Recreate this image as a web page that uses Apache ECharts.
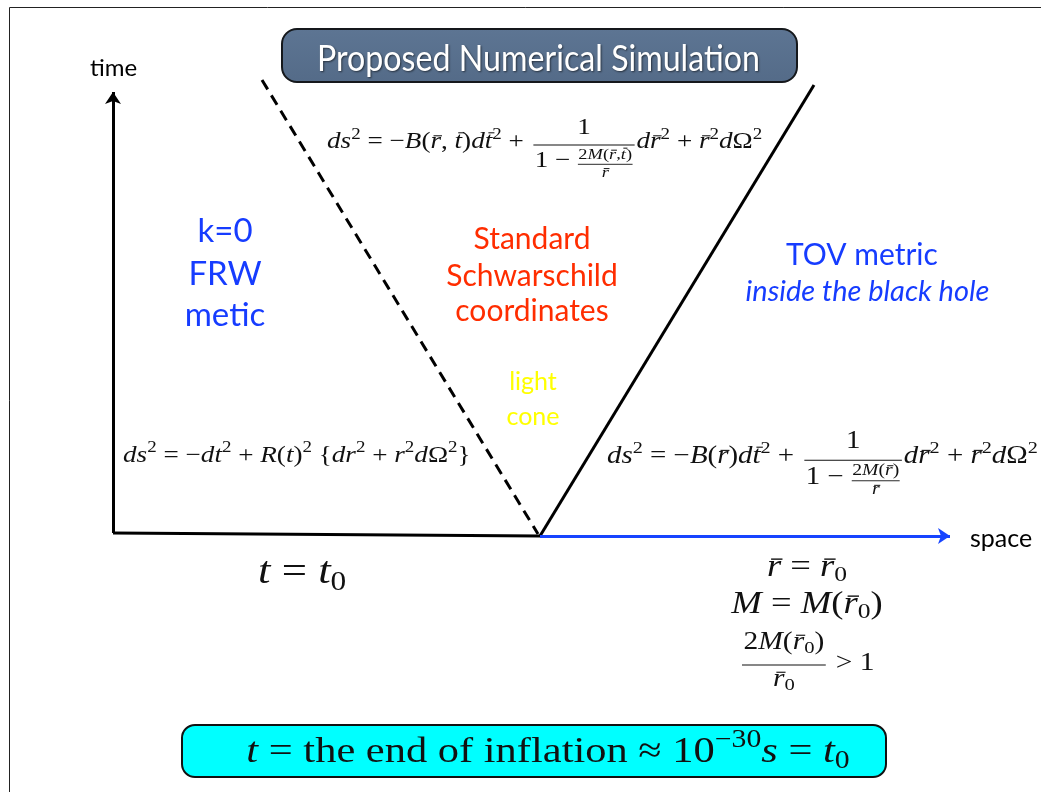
<!DOCTYPE html>
<html><head><meta charset="utf-8">
<script src="https://cdn.jsdelivr.net/npm/echarts@6/dist/echarts.min.js"></script>
<style>html,body{margin:0;padding:0;background:#fff}#c{width:1041px;height:792px}</style>
</head><body><div id="c"></div>
<script>
// ---- Space-time diagram data (space units, time units); light-cone apex at origin ----
const timeAxis = [[-4.27, 0.03], [-4.27, 4.44]];
const initialSlice = [[-4.27, 0.03], [0, 0]];
const spaceAxis = [[0, 0], [4.10, 0]];
const ingoingLightRay = [[-2.78, 4.56], [-0.02, 0.02]];
const outgoingLightRay = [[0, 0], [2.74, 4.51]];

// ---- Text content ----
const axisNames = ['time', 'space'];
const titleText = ['Proposed Numerical Simulation'];
const frwLabel = ['k=0', 'FRW', 'metic'];
const schwLabel = ['Standard', 'Schwarschild', 'coordinates'];
const coneLabel = ['light', 'cone'];
const tovLabel = ['TOV metric', 'inside the black hole'];

// equations as token lists: i italic, I italic barred, n upright, p superscript, q subscript
const eqSchwLeft = ['i:ds','p:2','n: = −','i:B','n:(','I:r','n:, ','I:t','n:)','i:d','I:t','p:2','n: + '];
const eqSchwSmallNum = ['n:2','i:M','n:(','I:r','n:,','I:t','n:)'];
const eqTovLeft = ['i:ds','p:2','n: = −','i:B','n:(','I:r','n:)','i:d','I:t','p:2','n: + '];
const eqTovSmallNum = ['n:2','i:M','n:(','I:r','n:)'];
const eqSmallDen = ['I:r'];
const eqNum = ['n:1'];
const eqDenLead = ['n:1 − '];
const eqTail = ['i:d','I:r','p:2','n: + ','I:r','p:2','i:d','n:Ω','p:2'];
const eqFrw = ['i:ds','p:2','n: = −','i:dt','p:2','n: + ','i:R','n:(','i:t','n:)','p:2','n: {','i:dr','p:2','n: + ','i:r','p:2','i:d','n:Ω','p:2','n:}'];
const eqT0 = ['i:t','n: = ','i:t','q:0'];
const eqR0 = ['I:r','n: = ','I:r','q:0'];
const eqM0 = ['i:M','n: = ','i:M','n:(','I:r','q:0','n:)'];
const eqRatioNum = ['n:2','i:M','n:(','I:r','q:0','n:)'];
const eqRatioDen = ['I:r','q:0'];
const eqRatioRel = ['n: > 1'];
const eqEnd = ['i:t','n: = the end of inflation ≈ 10','p:−30','i:s','n: = ','i:t','q:0'];

// ---- typesetting helpers ----
const SERIF = '"Liberation Serif","DejaVu Serif",serif';
const SANS = 'Lato,"Open Sans","Noto Sans",sans-serif';
const HS = 1.18; // horizontal stretch to mimic Computer Modern widths
const mctx = document.createElement('canvas').getContext('2d');
const gfx = [];
function tokInfo(tok){
  const c = tok[0], s = tok.slice(2);
  const m = {i:{it:1,k:1,dy:0},I:{it:1,k:1,dy:0,bar:1},n:{it:0,k:1,dy:0},p:{it:0,k:0.7,dy:-0.33},q:{it:0,k:0.7,dy:0.26}}[c];
  return Object.assign({s}, m);
}
function fontOf(it, size){ return (it ? 'italic ' : '') + size.toFixed(2) + 'px ' + SERIF; }
function measure(tokens, fs){
  let w = 0;
  for (const t of tokens){ const o = tokInfo(t); mctx.font = fontOf(o.it, fs*o.k); w += mctx.measureText(o.s).width*HS; }
  return w;
}
function place(tokens, x, yc, fs, color){
  color = color || '#111';
  for (const t of tokens){
    const o = tokInfo(t); const size = fs*o.k;
    mctx.font = fontOf(o.it, size);
    const w = mctx.measureText(o.s).width*HS;
    gfx.push({type:'text', x:x, y:yc + o.dy*fs, z:20, scaleX:HS,
      style:{text:o.s, font:fontOf(o.it, size), fill:color, align:'left', verticalAlign:'middle'}});
    if (o.bar){
      const tall = /[A-Zbdfhklt]/.test(o.s);
      const by = yc + o.dy*fs - (tall ? 0.40 : 0.27)*size;
      const sk = (tall ? 0.12 : 0.08)*size;
      gfx.push({type:'line', z:20, shape:{x1:x + 0.12*w + sk, y1:by, x2:x + 0.92*w + sk, y2:by},
        style:{stroke:color, lineWidth:Math.max(1, size*0.045)}});
    }
    x += w;
  }
  return x;
}
function hbar(x1, x2, y, lw){
  gfx.push({type:'line', z:20, shape:{x1:x1, y1:y, x2:x2, y2:y}, style:{stroke:'#111', lineWidth:lw}});
}
// metric with a nested fraction: left + 1/(1 - num/den) + tail
function metric(left, smallNum, x, yc, fs){
  let cx = place(left, x, yc, fs);
  const sf = fs*0.68;
  const wLead = measure(eqDenLead, fs);
  const wsn = measure(smallNum, sf), wsd = measure(eqSmallDen, sf);
  const wsf = Math.max(wsn, wsd) + 0.1*fs;
  const wDen = wLead + wsf;
  const wNum = measure(eqNum, fs);
  const bw = Math.max(wDen, wNum) + 0.12*fs;
  const bx = cx + 0.12*fs;
  hbar(bx, bx + bw, yc + 0.13*fs, 1.1);
  place(eqNum, bx + (bw - wNum)/2, yc - 0.62*fs, fs);
  const dy = yc + 0.84*fs;
  const dx = bx + (bw - wDen)/2;
  place(eqDenLead, dx, dy, fs);
  const sx = dx + wLead;
  hbar(sx + 0.03*fs, sx + wsf - 0.03*fs, dy + 0.13*fs, 0.9);
  place(smallNum, sx + (wsf - wsn)/2, dy - 0.30*fs, sf);
  place(eqSmallDen, sx + (wsf - wsd)/2, dy + 0.50*fs, sf);
  place(eqTail, bx + bw + 0.08*fs, yc, fs);
}
function centered(tokens, cx, yc, fs){ place(tokens, cx - measure(tokens, fs)/2, yc, fs); }
function label(text, x, y, size, color, opts){
  opts = opts || {};
  gfx.push({type:'text', x:x, y:y, z:20,
    style:{text:text, font:(opts.italic?'italic ':'') + size + 'px ' + SANS, fill:color,
      align:opts.align || 'center', verticalAlign:'middle'}});
}

// ---- frame and boxes ----
gfx.push({type:'rect', z:1, shape:{x:9.5, y:7.5, width:1100, height:900},
  style:{fill:'none', stroke:'#222', lineWidth:1}});
gfx.push({type:'rect', z:10, shape:{x:282, y:29, width:515, height:53, r:15},
  style:{fill:new echarts.graphic.LinearGradient(0,0,0,1,[{offset:0,color:'#5d7593'},{offset:1,color:'#546b88'}]),
    stroke:'#15181c', lineWidth:2}});
(function(){
  const fs = 36; mctx.font = fs + 'px ' + SANS;
  const w = mctx.measureText(titleText[0]).width;
  gfx.push({type:'text', x:538.5, y:59, z:20, scaleX:443/w, scaleY:1,
    style:{text:titleText[0], font:fs + 'px ' + SANS, fill:'#ffffff', align:'center', verticalAlign:'middle',
      textShadowColor:'rgba(0,0,0,0.55)', textShadowBlur:2, textShadowOffsetX:1, textShadowOffsetY:1}});
})();
gfx.push({type:'rect', z:10, shape:{x:182, y:725, width:704, height:52, r:13},
  style:{fill:'#00ffff', stroke:'#111', lineWidth:2}});

// ---- labels ----
label(axisNames[0], 113.5, 68, 24, '#000');
label(axisNames[1], 970, 539, 25, '#000', {align:'left'});
[231.5, 274, 315].forEach((y, i) => label(frwLabel[i], 225, y, 33, '#163cff'));
[239, 276, 311].forEach((y, i) => label(schwLabel[i], 532, y, 30, '#ff2d00'));
[382, 417].forEach((y, i) => label(coneLabel[i], 533, y, 25, '#ffff00'));
label(tovLabel[0], 862, 255, 30, '#163cff');
label(tovLabel[1], 867.5, 292, 29, '#163cff', {italic:true});

// ---- equations ----
metric(eqSchwLeft, eqSchwSmallNum, 327, 142, 23);
metric(eqTovLeft, eqTovSmallNum, 607, 457, 24.5);
place(eqFrw, 123, 455.5, 23);
place(eqT0, 258, 573, 38);
centered(eqR0, 807, 567.5, 31);
centered(eqM0, 807, 604.5, 31);
(function(){
  const fs = 25;
  const wn = measure(eqRatioNum, fs), wd = measure(eqRatioDen, fs);
  const bw = Math.max(wn, wd) + 0.12*fs, bx = 742;
  hbar(bx, bx + bw, 665, 1.1);
  place(eqRatioNum, bx + (bw - wn)/2, 642, fs);
  place(eqRatioDen, bx + (bw - wd)/2, 679, fs);
  place(eqRatioRel, bx + bw + 0.1*fs, 663, fs);
})();
centered(eqEnd, 548, 752.5, 36);

// ---- chart ----
const chart = echarts.init(document.getElementById('c'), null, {renderer:'canvas'});
chart.setOption({
  animation:false,
  grid:{left:0, right:0, top:0, bottom:0},
  xAxis:{type:'value', min:-5.40, max:5.01, show:false},
  yAxis:{type:'value', min:-2.56, max:5.36, show:false},
  series:[
    {type:'line', data:initialSlice, symbol:'none', silent:true, lineStyle:{color:'#000', width:3}, z:3},
    {type:'line', data:ingoingLightRay, symbol:'none', silent:true, lineStyle:{color:'#000', width:3, type:[11,7]}, z:3},
    {type:'line', data:outgoingLightRay, symbol:'none', silent:true, lineStyle:{color:'#000', width:3}, z:3},
    {type:'lines', coordinateSystem:'cartesian2d', symbol:['none','arrow'], symbolSize:12, silent:true,
      lineStyle:{color:'#000', width:3, opacity:1}, data:[{coords:timeAxis}], z:4},
    {type:'lines', coordinateSystem:'cartesian2d', symbol:['none','arrow'], symbolSize:12, silent:true,
      lineStyle:{color:'#1744ff', width:3, opacity:1}, data:[{coords:spaceAxis}], z:4}
  ],
  graphic:{elements:gfx}
});
</script>
</body></html>
